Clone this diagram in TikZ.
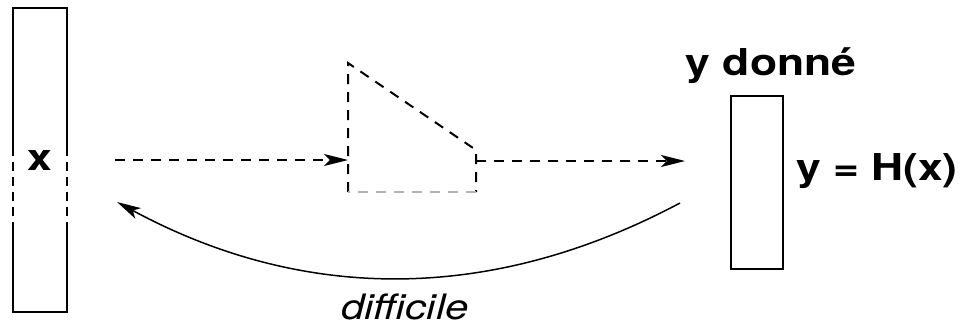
\documentclass[tikz,border=0pt]{standalone}
\usepackage{fontspec}
\setmainfont{TeX Gyre Heros}
\usetikzlibrary{arrows.meta}
\begin{document}
\begin{tikzpicture}[x=1pt,y=-1pt,line width=2pt,
  arrowtip/.style={-{Stealth[length=24pt,width=12pt,inset=6pt]}},
  dsh/.style={dash pattern=on 10pt off 8pt},
  sidedash/.style={dash pattern=on 9pt off 6pt},
  lbl/.style={font=\fontsize{37}{40}\selectfont\bfseries,inner sep=0pt},
  itl/.style={font=\fontsize{35}{40}\selectfont\itshape,inner sep=0pt},
  boxnode/.style={draw,line width=2pt,minimum width=52pt,inner sep=0pt}]
\useasboundingbox (0,0) rectangle (966,327);
% left vector x
\node[minimum width=52pt,minimum height=302pt,inner sep=0pt] (xbox) at (40,160) {};
\draw (xbox.west |- 0,147) -- (xbox.north west) -- (xbox.north east) -- (xbox.east |- 0,147);
\draw (xbox.west |- 0,222) -- (xbox.south west) -- (xbox.south east) -- (xbox.east |- 0,222);
\draw[sidedash] (xbox.west |- 0,147) -- (xbox.west |- 0,222);
\draw[sidedash] (xbox.east |- 0,147) -- (xbox.east |- 0,222);
\node[lbl,anchor=base] (xl) at (40,170) {\scalebox{1.2}[1]{x}};
% trapezoid (hash function)
\coordinate (A) at (348,63);
\coordinate (B) at (476,150);
\coordinate (C) at (476,192);
\coordinate (D) at (348,192);
\draw[dsh] (D) -- (A) -- (B) -- (C);
\draw[dsh,gray!60] (C) -- (D);
\coordinate (tin) at (348,160);
\coordinate (tout) at (476,161);
% right vector y
\node[boxnode,minimum height=173pt] (ybox) at (757,182.5) {};
\node[lbl,anchor=base] (yd) at (771,75) {\scalebox{1.2}[1]{y donné}};
\node[lbl,anchor=base west] (yh) at (795,180) {\scalebox{1.2}[1]{y = H(x)}};
% arrows
\coordinate (a1) at (115,160);
\coordinate (a2) at (685,161);
\draw[dsh,arrowtip] (a1) -- (tin);
\draw[dsh,arrowtip] (tout) -- (a2);
\coordinate (cs) at (680,203);
\coordinate (ce) at (117,202);
\draw[line width=1.5pt,arrowtip] (cs) .. controls (492,303) and (304,303) .. (ce);
\node[itl,anchor=base] (dl) at (405,319) {\scalebox{1.2}[1]{difficile}};
\end{tikzpicture}
\end{document}
